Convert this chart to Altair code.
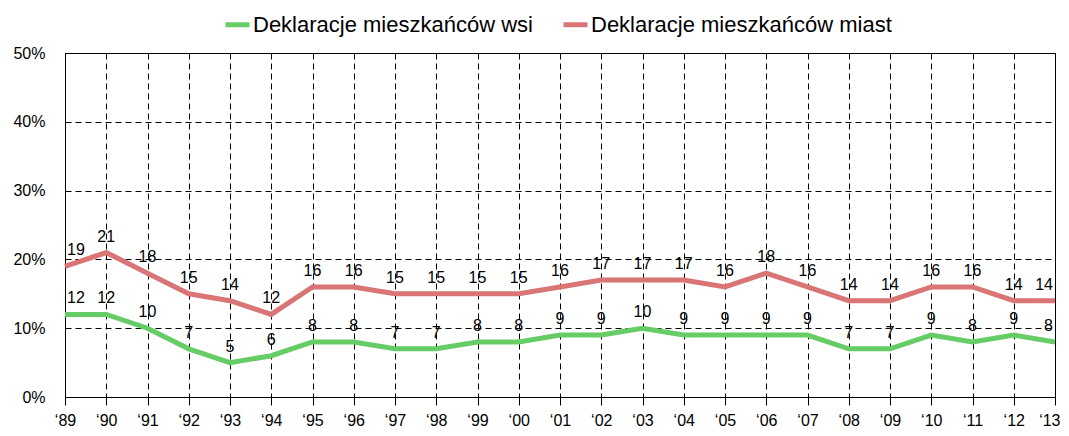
import altair as alt
import pandas as pd

years = ["‘89", "‘90", "‘91", "‘92", "‘93", "‘94", "‘95", "‘96", "‘97", "‘98", "‘99", "‘00",
         "‘01", "‘02", "‘03", "‘04", "‘05", "‘06", "‘07", "‘08", "‘09", "‘10", "‘11", "‘12", "‘13"]
wsi = [12, 12, 10, 7, 5, 6, 8, 8, 7, 7, 8, 8, 9, 9, 10, 9, 9, 9, 9, 7, 7, 9, 8, 9, 8]
miasta = [19, 21, 18, 15, 14, 12, 16, 16, 15, 15, 15, 15, 16, 17, 17, 17, 16, 18, 16, 14, 14, 16, 16, 14, 14]
series_names = ["Deklaracje mieszkańców wsi", "Deklaracje mieszkańców miast"]
series_colors = ["#66CC66", "#D97575"]

rows = []
for name, vals in zip(series_names, [wsi, miasta]):
    for y, v in zip(years, vals):
        rows.append({"rok": y, "wartosc": v, "seria": name})
df = pd.DataFrame(rows)

first_year = years[0]
last_year = years[-1]
last_test = "datum.value === '" + last_year + "'"

x = alt.X("rok:O", sort=years, scale=alt.Scale(padding=0),
          axis=alt.Axis(title=None, labelAngle=0, labelFontSize=16, labelColor="#000",
                        domain=False, ticks=True, tickSize=8, tickColor="#000",
                        labelPadding=7, grid=True, gridColor="#000", gridDash=[6, 4],
                        gridWidth=1,
                        labelAlign={"condition": {"test": last_test, "value": "right"}, "value": "center"},
                        labelOffset={"condition": {"test": last_test, "value": 5}, "value": 0}))
y = alt.Y("wartosc:Q", scale=alt.Scale(domain=[0, 50], nice=False),
          axis=alt.Axis(title=None, values=[0, 10, 20, 30, 40, 50], labelExpr="datum.value + '%'",
                        labelFontSize=16, labelColor="#000", ticks=False, labelPadding=20,
                        domain=True, domainColor="#000", grid=True, gridColor="#000",
                        gridDash=[6, 4], gridWidth=1))

base = alt.Chart(df)

lines = base.mark_line(strokeWidth=5).encode(
    x=x, y=y,
    color=alt.Color("seria:N", sort=series_names,
                    scale=alt.Scale(domain=series_names, range=series_colors),
                    legend=alt.Legend(title=None, orient="none", direction="horizontal",
                                      legendX=158, legendY=-43, symbolType="stroke",
                                      symbolSize=576, symbolStrokeWidth=5, labelFontSize=22,
                                      labelColor="#000", labelOffset=1, columnPadding=20,
                                      padding=0, labelLimit=400))
)

lx = alt.X("rok:O", sort=years)
labels_mid = base.transform_filter(
    (alt.datum.rok != first_year) & (alt.datum.rok != last_year)
).mark_text(fontSize=16, dy=-16, baseline="middle", color="#000").encode(
    x=lx, y="wartosc:Q", text="wartosc:Q")
labels_first = base.transform_filter(alt.datum.rok == first_year).mark_text(
    fontSize=16, dy=-16, dx=2, align="left", baseline="middle", color="#000").encode(
    x=lx, y="wartosc:Q", text="wartosc:Q")
labels_last = base.transform_filter(alt.datum.rok == last_year).mark_text(
    fontSize=16, dy=-16, dx=-2, align="right", baseline="middle", color="#000").encode(
    x=lx, y="wartosc:Q", text="wartosc:Q")

chart = (lines + labels_mid + labels_first + labels_last).properties(
    width=990, height=344,
    autosize=alt.AutoSizeParams(type="none"),
    padding={"left": 57, "top": 45, "right": 6, "bottom": 31},
).configure(font="Liberation Sans").configure_view(stroke="#000", strokeWidth=1)

chart.save("out.html", embed_options={"renderer": "svg", "actions": False})
